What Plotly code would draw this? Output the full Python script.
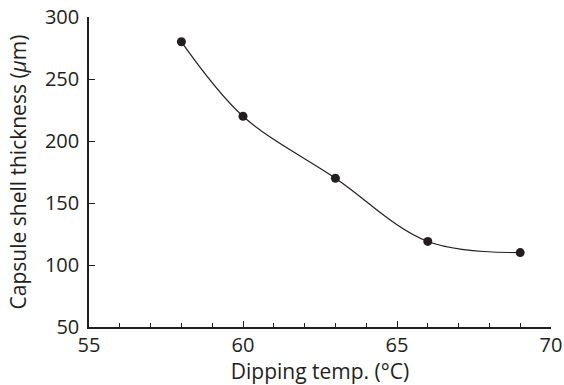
import plotly.graph_objects as go

temps = [58, 60, 63, 66, 69]
thickness = [280, 220, 170, 119, 110]
x_ticks = [55, 60, 65, 70]
y_ticks = [50, 100, 150, 200, 250, 300]

ink = "#231f20"
font_family = "Open Sans"

fig = go.Figure()
fig.add_trace(go.Scatter(
    x=temps, y=thickness, mode="lines+markers",
    line=dict(color=ink, width=1.2, shape="spline", smoothing=1.0),
    marker=dict(color=ink, size=9),
    showlegend=False, cliponaxis=False,
))

fig.update_layout(
    width=564, height=385,
    margin=dict(l=89, r=13, t=17, b=58),
    paper_bgcolor="white", plot_bgcolor="white",
    font=dict(family=font_family, color=ink),
)
fig.update_xaxes(
    range=[55, 70], tickvals=x_ticks, ticks="inside", ticklen=6, tickwidth=1.2,
    tickcolor=ink, showline=True, linecolor=ink, linewidth=1.5, showgrid=False,
    zeroline=False, tickfont=dict(size=20, family=font_family, color=ink),
    automargin=False, ticklabelstandoff=-1,
    minor=dict(dtick=1, ticks="inside", ticklen=4, tickwidth=1.2, tickcolor=ink, showgrid=False),
    title=dict(text="Dipping temp. (°C)", font=dict(size=21, family=font_family, color=ink), standoff=4),
)
fig.update_yaxes(
    range=[50, 300], tickvals=y_ticks, ticks="inside", ticklen=6, tickwidth=1.2,
    tickcolor=ink, showline=True, linecolor=ink, linewidth=1.5, showgrid=False,
    zeroline=False, tickfont=dict(size=20, family=font_family, color=ink),
    automargin=False, ticklabelstandoff=4,
    title=dict(text="Capsule shell thickness (<i>μ</i>m)", font=dict(size=21, family=font_family, color=ink), standoff=13),
)

fig.write_html(
    "out.html",
    config={"displayModeBar": False},
    post_script="document.body.style.margin='0';document.body.style.overflow='hidden';",
)
